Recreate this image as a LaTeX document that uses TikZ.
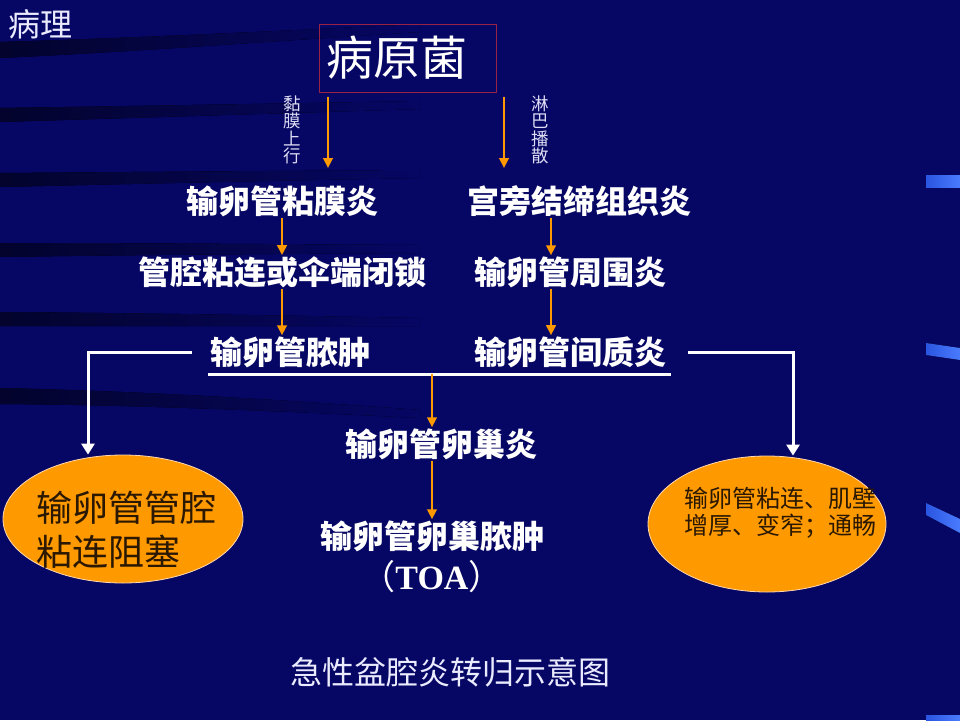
\documentclass[tikz,border=0pt]{standalone}
\usepackage{fontspec}
\setmainfont{Liberation Serif}
\newfontfamily\cjk{Noto Sans CJK SC}
\usetikzlibrary{arrows.meta,shapes.geometric}
\definecolor{bgC}{RGB}{6,6,100}
\definecolor{stripeC}{RGB}{3,3,45}
\definecolor{orangeC}{HTML}{FF9900}
\definecolor{boxC}{HTML}{9A2345}
\definecolor{labC}{HTML}{DCDCF4}
\definecolor{accL}{HTML}{2A55E0}
\definecolor{accM}{HTML}{4A7BFF}
\definecolor{ovtxt}{HTML}{2A1800}
\begin{document}
\begin{tikzpicture}[x=1pt,y=-1pt,
  flow/.style={font=\cjk\bfseries\fontsize{32}{36}\selectfont, text=white, inner sep=1pt},
  srcbox/.style={draw=boxC, line width=1pt, font=\cjk\fontsize{47}{52}\selectfont, text=white,
     minimum height=68pt, text width=163pt, inner xsep=7pt, align=left},
  vlab/.style={font=\cjk\fontsize{17.5}{17.5}\selectfont, text=labC, align=center, inner sep=0pt},
  capt/.style={font=\cjk\fontsize{32}{36}\selectfont, text=white!92!blue, inner sep=0pt},
  oval/.style={ellipse, draw=orange!30!white, line width=0.8pt, fill=orangeC, inner sep=0pt},
  ovtext/.style={text=ovtxt, align=left, inner sep=0pt},
  oarr/.style={draw=orangeC, line width=2.8pt, -{Triangle[length=10pt,width=9.5pt]}},
  wline/.style={draw=white, line width=3pt},
  warr/.style={draw=white, line width=3pt, -{Triangle[length=11pt,width=13pt]}},
  accent/.style={left color=accL, right color=accM}
]
\useasboundingbox (0,0) rectangle (960,720);
\fill[bgC] (0,0) rectangle (960,720);
% dark background stripes
\fill[left color=stripeC, right color=bgC] (0,42) .. controls (130,38) and (260,32) .. (420,24) -- (420,32) .. controls (260,42) and (130,52) .. (0,58) -- cycle;
\fill[left color=stripeC, right color=bgC] (0,108) .. controls (130,106) and (260,104) .. (420,101) -- (420,109) .. controls (260,114) and (130,118) .. (0,122) -- cycle;
\fill[left color=stripeC, right color=bgC] (0,173) .. controls (130,172) and (260,171) .. (420,170) -- (420,178) .. controls (260,181) and (130,184) .. (0,187) -- cycle;
\fill[left color=stripeC, right color=bgC] (0,243) .. controls (130,243) and (260,244) .. (420,245) -- (420,253) .. controls (260,254) and (130,255) .. (0,257) -- cycle;
\fill[left color=stripeC, right color=bgC] (0,312) .. controls (130,313) and (260,315) .. (420,318) -- (420,326) .. controls (260,326) and (130,326) .. (0,326) -- cycle;
\fill[left color=stripeC, right color=bgC] (0,388) .. controls (130,391) and (260,398) .. (420,410) -- (420,418) .. controls (260,410) and (130,405) .. (0,404) -- cycle;
% blue accents at right edge
\fill[accent] (926,175) -- (960,175) -- (960,187) -- (926,187) -- cycle;
\fill[accent] (926,343) -- (960,348) -- (960,360) -- (926,355) -- cycle;
\fill[accent] (926,503) -- (960,519) -- (960,533) -- (926,515) -- cycle;
\fill[accent] (926,715) -- (960,715) -- (960,720) -- (926,720) -- cycle;

% title and caption
\node[capt] (ttl) at (41,24) {病理};
\node[capt] (cap) at (450,672) {急性盆腔炎转归示意图};

% source
\node[srcbox] (src) at (408,58) {病原菌};
\node[vlab] (tl) at (292,130) {黏\\膜\\上\\行};
\node[vlab] (tr) at (540,130) {淋\\巴\\播\\散};

% flow nodes
\node[flow] (a1) at (282,201) {输卵管粘膜炎};
\node[flow] (b1) at (579,201) {宫旁结缔组织炎};
\node[flow] (a2) at (282,272) {管腔粘连或伞端闭锁};
\node[flow] (b2) at (570,272) {输卵管周围炎};
\node[flow] (a3) at (290,352) {输卵管脓肿};
\node[flow] (b3) at (570,352) {输卵管间质炎};
\node[flow] (c1) at (441,444) {输卵管卵巢炎};
\node[flow] (c2) at (432,536) {输卵管卵巢脓肿};
\node[text=white, inner sep=0pt, font=\fontsize{34}{38}\selectfont] (c3) at (432,577) {{\cjk （}\textbf{TOA}{\cjk ）}};

% ellipses
\node[oval, minimum width=240pt, minimum height=128pt] (el) at (123,519) {};
\node[ovtext, font=\cjk\fontsize{36}{44}\selectfont] (elt) at (126,530) {输卵管管腔\\粘连阻塞};
\node[oval, minimum width=238pt, minimum height=136pt] (er) at (767,524) {};
\node[ovtext, font=\cjk\fontsize{24}{27}\selectfont] (ert) at (780,513) {输卵管粘连、肌壁\\增厚、变窄；通畅};

% coordinates
\coordinate (ls) at (328,97);
\coordinate (le) at (328,168);
\coordinate (rs) at (504,97);
\coordinate (re) at (504,168);
\coordinate (xr) at (551,0);
\coordinate (barL) at (208,374);
\coordinate (barR) at (671,374);
\coordinate (barM) at (432,374);
\coordinate (wl) at (192,352);
\coordinate (wlx) at (88,0);
\coordinate (wr) at (688,352);
\coordinate (wrx) at (793,0);

% orange arrows
\draw[oarr] (ls) -- (le);
\draw[oarr] (rs) -- (re);
\draw[oarr] (a1.south) -- (a1.south |- a2.north);
\draw[oarr] (a2.south) -- (a2.south |- a3.north);
\draw[oarr] (b1.south -| xr) -- (b2.north -| xr);
\draw[oarr] (b2.south -| xr) -- (b3.north -| xr);
\draw[wline] (barL) -- (barR);
\draw[oarr] (barM) -- (barM |- c1.north);
\draw[oarr] (c1.south -| barM) -- (c2.north -| barM);

% white connectors
\draw[warr] (wl) -| (wlx |- el.north);
\draw[warr] (wr) -| (wrx |- er.north);
\end{tikzpicture}
\end{document}
